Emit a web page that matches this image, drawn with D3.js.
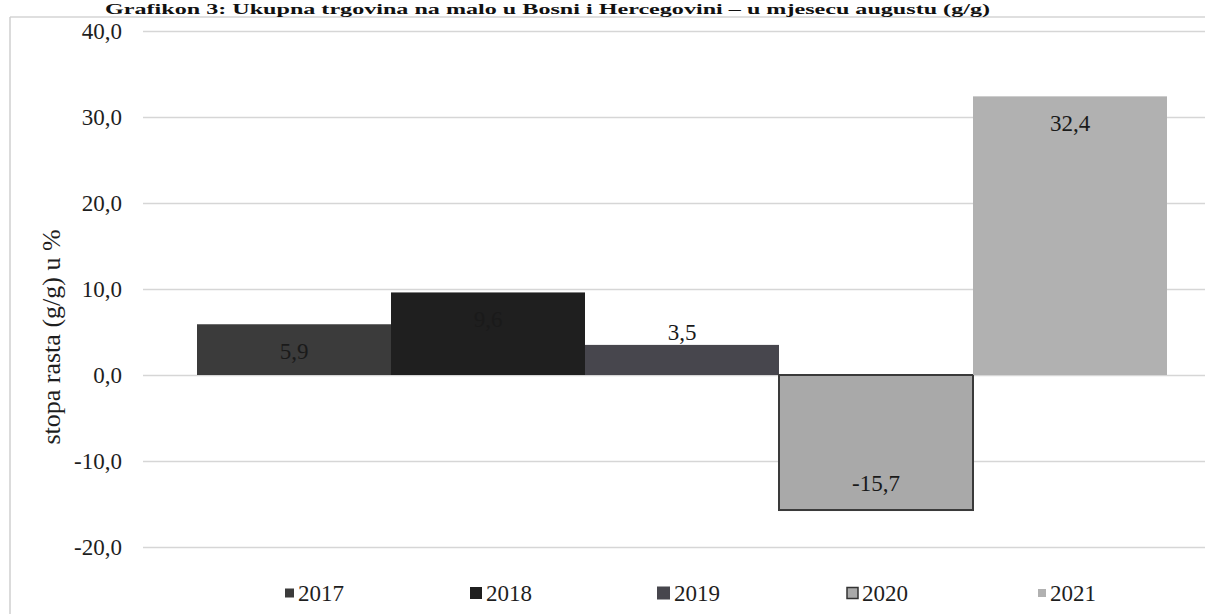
<!DOCTYPE html>
<html>
<head>
<meta charset="utf-8">
<script src="https://cdn.jsdelivr.net/npm/d3@7"></script>
<style>
  html, body { margin: 0; padding: 0; background: #ffffff; overflow: hidden; }
  svg { display: block; }
</style>
</head>
<body>
<div id="chart"></div>
<script>
// ---- data ----
const title = "Grafikon 3: Ukupna trgovina na malo u Bosni i Hercegovini – u mjesecu augustu (g/g)";
const yAxisTitle = "stopa rasta (g/g) u %";
const years = ["2017", "2018", "2019", "2020", "2021"];
const values = [5.9, 9.6, 3.5, -15.7, 32.4];
const yTicks = [-20, -10, 0, 10, 20, 30, 40];

// ---- styling (not data) ----
const fills = ["#3b3b3b", "#1f1f1f", "#47464d", "#a9a9a9", "#b1b1b1"];
const strokes = ["none", "none", "none", "#3a3a3a", "none"];
const legendSizes = [9, 12, 13, 11, 8];

const W = 1205, H = 614;
const locale = d3.formatLocale({ decimal: ",", thousands: ".", grouping: [3], currency: ["", ""], minus: "-" });
const fmt = locale.format(".1f");

const svg = d3.select("#chart").append("svg")
  .attr("width", W).attr("height", H)
  .style("font-family", "'Liberation Serif', 'Times New Roman', serif");

// border of the chart frame (scan shows left and top edges)
svg.append("line").attr("x1", 10).attr("x2", W).attr("y1", 17).attr("y2", 17)
  .attr("stroke", "#d4d4d4").attr("stroke-width", 1.5);
svg.append("line").attr("x1", 10).attr("x2", 10).attr("y1", 17).attr("y2", H)
  .attr("stroke", "#cfcfcf").attr("stroke-width", 1.5);

// title
svg.append("text")
  .attr("x", 105).attr("y", 14)
  .attr("font-size", 14).attr("font-weight", "bold").attr("fill", "#111")
  .attr("textLength", 885).attr("lengthAdjust", "spacingAndGlyphs")
  .text(title);

const y = d3.scaleLinear().domain([-20, 40]).range([547, 31]);
const x = d3.scaleBand().domain(years).range([197, 1167]).padding(0);
const plotLeft = 143, plotRight = 1221;

// gridlines via axis
const grid = svg.append("g").attr("transform", `translate(${plotLeft},0)`)
  .call(d3.axisRight(y).tickValues(yTicks).tickSize(plotRight - plotLeft).tickFormat(""));
grid.select(".domain").remove();
grid.selectAll(".tick line").attr("stroke", "#d6d6d6").attr("stroke-width", 1.5);

// y tick labels via axis
const yAxis = svg.append("g").attr("transform", `translate(122,0)`)
  .call(d3.axisLeft(y).tickValues(yTicks).tickSize(0).tickPadding(0).tickFormat(fmt));
yAxis.select(".domain").remove();
yAxis.selectAll("text")
  .attr("font-family", "'Liberation Serif', 'Times New Roman', serif")
  .attr("font-size", 23).attr("fill", "#1e1e1e");

// y axis title
svg.append("text")
  .attr("transform", `translate(51,337) rotate(-90)`)
  .attr("text-anchor", "middle").attr("dominant-baseline", "central")
  .attr("font-size", 26).attr("fill", "#1e1e1e")
  .text(yAxisTitle);

// bars
const data = years.map((yr, i) => ({ yr, v: values[i], i }));
svg.append("g").selectAll("rect").data(data).join("rect")
  .attr("x", d => x(d.yr))
  .attr("width", x.bandwidth())
  .attr("y", d => Math.min(y(d.v), y(0)))
  .attr("height", d => Math.abs(y(d.v) - y(0)))
  .attr("fill", d => fills[d.i])
  .attr("stroke", d => strokes[d.i])
  .attr("stroke-width", 2);

// data labels (inside end)
svg.append("g").selectAll("text").data(data).join("text")
  .attr("x", d => x(d.yr) + x.bandwidth() / 2)
  .attr("y", d => {
    const end = y(d.v), dir = d.v >= 0 ? 1 : -1;
    const h = Math.abs(y(d.v) - y(0));
    return h >= 45 ? end + 27 * dir : end - 12 * dir;
  })
  .attr("text-anchor", "middle").attr("dominant-baseline", "central")
  .attr("font-size", 23).attr("fill", "#1a1a1a")
  .text(d => fmt(d.v));

// legend
const legendX = d3.scalePoint().domain(years).range([298, 1050]);
const lg = svg.append("g").selectAll("g").data(data).join("g")
  .attr("transform", d => `translate(${legendX(d.yr)},593)`);
lg.append("rect")
  .attr("x", d => -4 - legendSizes[d.i]).attr("y", d => -legendSizes[d.i] / 2)
  .attr("width", d => legendSizes[d.i]).attr("height", d => legendSizes[d.i])
  .attr("fill", d => fills[d.i])
  .attr("stroke", d => strokes[d.i] === "none" ? "none" : "#333")
  .attr("stroke-width", 1.5);
lg.append("text")
  .attr("x", 0).attr("y", 0)
  .attr("dominant-baseline", "central")
  .attr("font-size", 23).attr("fill", "#1e1e1e")
  .text(d => d.yr);
</script>
</body>
</html>
